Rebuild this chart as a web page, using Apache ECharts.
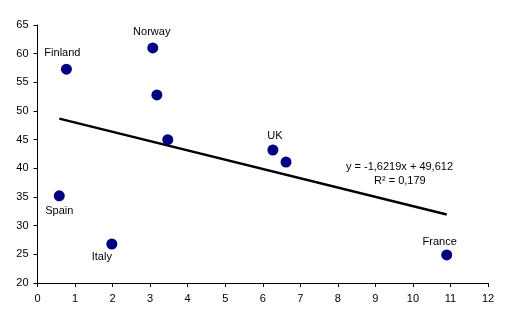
<!DOCTYPE html>
<html>
<head>
<meta charset="utf-8">
<script src="https://cdn.jsdelivr.net/npm/echarts@6/dist/echarts.min.js"></script>
<style>
  html, body { margin: 0; padding: 0; background: #fff; }
  #chart { width: 512px; height: 327px; }
</style>
</head>
<body>
<div id="chart"></div>
<script>
// Country observations
const countries = ['Finland', 'Norway', '', '', 'UK', '', 'Spain', 'Italy', 'France'];
const xValues = [0.77, 3.07, 3.18, 3.47, 6.27, 6.62, 0.58, 1.98, 10.9];
const yValues = [57.3, 61.0, 52.8, 45.0, 43.2, 41.1, 35.2, 26.8, 24.9];
// Where each country name sits relative to its point
const labelSides = ['top', 'top', '', '', 'top', '', 'bottom', 'bottom', 'top'];

// Linear trend: y = slope * x + intercept
const slope = -1.6219;
const intercept = 49.612;
const rSquared = 0.179;

const xTicks = { min: 0, max: 12, interval: 1 };
const yTicks = { min: 20, max: 65, interval: 5 };

const fmt = v => String(v).replace('.', ',');

// Small nudges so the names don't crowd their markers
const labelNudge = {
  Finland: [-4, 1],
  Norway: [-1, 1],
  UK: [2, 3],
  Spain: [0, -2],
  Italy: [-10, -4],
  France: [-7, 4]
};

const points = xValues.map((x, i) => ({
  value: [x, yValues[i]],
  name: countries[i],
  label: {
    show: countries[i] !== '',
    position: labelSides[i] || 'top',
    offset: labelNudge[countries[i]] || [0, 0]
  }
}));

const xMin = Math.min(...xValues);
const xMax = Math.max(...xValues);
const trend = [xMin, xMax].map(x => [x, slope * x + intercept]);

const chart = echarts.init(document.getElementById('chart'), null, { renderer: 'canvas' });
const axisCommon = {
  axisLine: { show: true, lineStyle: { color: '#000', width: 1 } },
  axisTick: { show: true, inside: false, length: 4, lineStyle: { color: '#000' } },
  axisLabel: { color: '#000', fontFamily: 'Liberation Sans, Arial', fontSize: 11 },
  splitLine: { show: false }
};
chart.setOption({
  animation: false,
  backgroundColor: '#fff',
  grid: { left: 37.5, right: 24, top: 25, bottom: 44 },
  xAxis: Object.assign({ type: 'value' }, xTicks, axisCommon,
    { axisLabel: Object.assign({}, axisCommon.axisLabel, { margin: 10 }) }),
  yAxis: Object.assign({ type: 'value' }, yTicks, axisCommon,
    { axisLabel: Object.assign({}, axisCommon.axisLabel, { margin: 9 }) }),
  series: [
    {
      type: 'line',
      data: trend,
      symbol: 'none',
      lineStyle: { color: '#000', width: 2.5 },
      z: 2
    },
    {
      type: 'scatter',
      data: points,
      symbol: 'circle',
      symbolSize: 11,
      itemStyle: { color: '#000080', opacity: 1 },
      label: {
        formatter: p => p.name,
        color: '#000',
        fontFamily: 'Liberation Sans, Arial',
        fontSize: 11,
        distance: 6
      },
      z: 3
    }
  ],
  graphic: [
    {
      type: 'text',
      left: 346, top: 161,
      style: {
        text: 'y = ' + fmt(slope) + 'x + ' + fmt(intercept),
        fill: '#000', font: '11px "Liberation Sans", Arial'
      }
    },
    {
      type: 'text',
      left: 374, top: 175,
      style: {
        text: 'R² = ' + fmt(rSquared),
        fill: '#000', font: '11px "Liberation Sans", Arial'
      }
    }
  ]
});
</script>
</body>
</html>
